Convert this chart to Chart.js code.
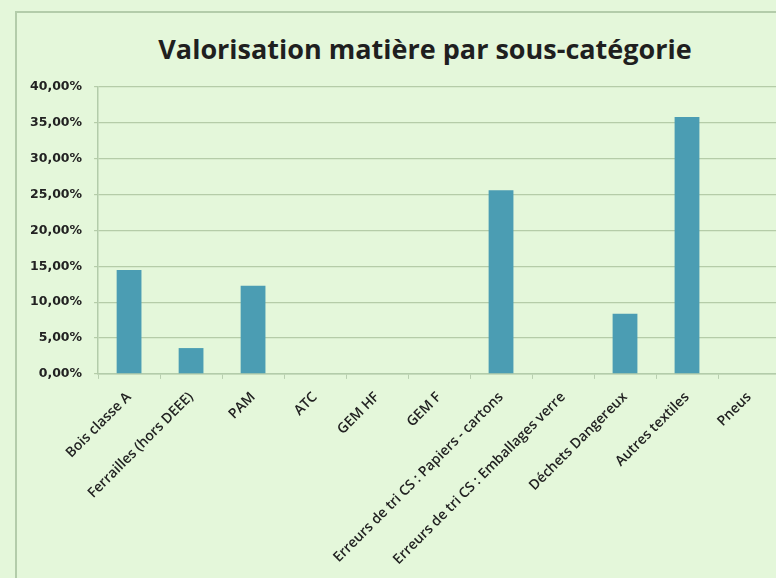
<!DOCTYPE html>
<html>
<head>
<meta charset="utf-8">
<script src="https://cdn.jsdelivr.net/npm/chart.js@4/dist/chart.umd.min.js"></script>
<style>
    html, body { margin: 0; padding: 0; overflow: hidden; background: #e4f7da; }
    #frame { position: absolute; left: 15px; top: 11px; width: 900px; height: 700px;
             border-left: 2px solid #b3ccaa; border-top: 2px solid #b3ccaa; }
    #title { position: absolute; left: 125px; top: 31px; width: 600px; text-align: center;
             font: bold 27px/36px "Open Sans", sans-serif; color: #1f1f1f; white-space: nowrap; }
    #wrap { position: absolute; left: 0; top: 0; width: 790px; height: 578px; }
</style>
</head>
<body>
<div id="frame"></div>
<div id="title">Valorisation matière par sous-catégorie</div>
<div id="wrap"><canvas id="chart"></canvas></div>
<script>
'use strict';

const categories = [
    'Bois classe A',
    'Ferrailles (hors DEEE)',
    'PAM',
    'ATC',
    'GEM HF',
    'GEM F',
    'Erreurs de tri CS : Papiers - cartons',
    'Erreurs de tri CS : Emballages verre',
    'Déchets Dangereux',
    'Autres textiles',
    'Pneus'
];
// valorisation matière, en %
const valorisation = [14.5, 3.6, 12.3, 0, 0, 0, 25.6, 0, 8.4, 35.8, 0];
const yTicks = [0, 5, 10, 15, 20, 25, 30, 35, 40];

function formatPct(v) {
    return v.toFixed(2).replace('.', ',') + '%';
}

new Chart(document.getElementById('chart').getContext('2d'), {
    type: 'bar',
    data: {
        labels: categories,
        datasets: [
            {
                data: valorisation,
                backgroundColor: '#4b9db3',
                barPercentage: 0.8,
                categoryPercentage: 0.5
            }
        ]
    },
    options: {
        responsive: true,
        maintainAspectRatio: false,
        animation: false,
        layout: {padding: {left: 18, top: 87, right: 10, bottom: 0}},
        plugins: {legend: {display: false}, tooltip: {enabled: false}, title: {display: false}},
        scales: {
            x: {
                grid: {display: true, drawOnChartArea: false, drawTicks: true, tickLength: 5, color: '#b9cfb0'},
                border: {color: '#b3ccaa', width: 1.5},
                ticks: {
                    minRotation: 45,
                    maxRotation: 45,
                    autoSkip: false,
                    padding: 10,
                    color: '#222',
                    font: {family: '"Open Sans", sans-serif', size: 14, weight: '600'}
                }
            },
            y: {
                min: 0,
                max: 40,
                afterBuildTicks: function (axis) {
                    axis.ticks = yTicks.map(v => ({value: v}));
                },
                grid: {color: '#b5cca8', lineWidth: 1.2, tickLength: 4},
                border: {color: '#b3ccaa', width: 1.5},
                ticks: {
                    padding: 12,
                    color: '#222',
                    font: {family: '"DejaVu Sans", sans-serif', size: 12.5, weight: 'bold'},
                    callback: formatPct
                }
            }
        }
    }
});
</script>
</body>
</html>
